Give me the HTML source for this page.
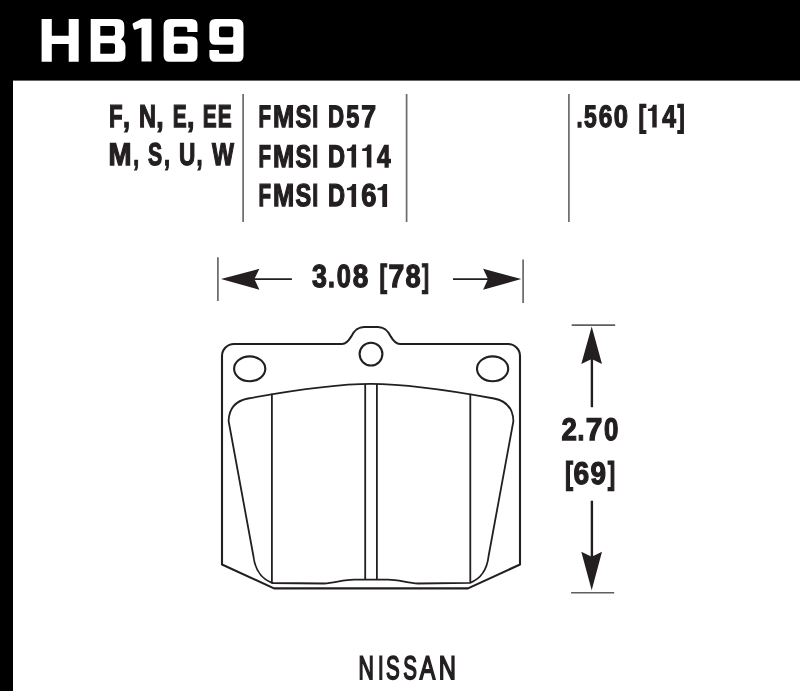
<!DOCTYPE html>
<html>
<head>
<meta charset="utf-8">
<style>
html,body{margin:0;padding:0;background:#fff;width:800px;height:691px;overflow:hidden;}
svg{position:absolute;left:0;top:0;display:block;}
text{font-family:"Liberation Sans",sans-serif;fill:#231f20;text-rendering:geometricPrecision;}
.b{font-weight:bold;}
</style>
</head>
<body>
<svg width="800" height="691" viewBox="0 0 800 691">
<rect x="0" y="0" width="800" height="691" fill="#fff"/>
<!-- header -->
<rect x="0" y="0" width="800" height="80.6" fill="#000"/>
<rect x="0" y="0" width="13" height="691" fill="#000"/>

<!-- HB169 title glyphs -->
<g fill="#fff" fill-rule="evenodd">
  <!-- H -->
  <path d="M41.6,18.9H51.8V35.8H68.7V18.9H78.7V61.8H68.7V44.1H51.8V61.8H41.6Z"/>
  <!-- B -->
  <path d="M90.7,18.9H117.3Q124.3,18.9 124.3,25.9V32.5Q124.3,37.2 120.8,39.2Q125.5,41.4 125.5,46.5V54.7Q125.5,61.7 118.5,61.7H90.7Z
           M100.3,26H113Q115,26 115,28V33.8Q115,35.8 113,35.8H100.3Z M100.3,43.3H113Q115,43.3 115,45.3V51.8Q115,53.8 113,53.8H100.3Z"/>
  <!-- 1 -->
  <path d="M142,18.8H150.5Q151.5,18.8 151.5,19.8V61.5H141.5V27.5L135.2,29.7Q134,30 133.7,28.8L132.6,24.8Q132.3,23.6 133.4,23.1Z"/>
  <!-- 6 -->
  <path d="M170.6,18.9H191.5Q197.5,18.9 197.5,24.9V32H187.3V28.3Q187.3,26.8 185.8,26.8H175.8Q173.8,26.8 173.8,28.8V36.6H191.5Q197.5,36.6 197.5,42.6V55.7Q197.5,61.7 191.5,61.7H169.6Q163.6,61.7 163.6,55.7V25.9Q163.6,18.9 170.6,18.9Z
           M175.8,43.8H185.7Q187.7,43.8 187.7,45.8V51.8Q187.7,53.8 185.7,53.8H175.8Q173.8,53.8 173.8,51.8V45.8Q173.8,43.8 175.8,43.8Z"/>
  <!-- 9 -->
  <path d="M215.4,18.9H236.5Q243.5,18.9 243.5,25.9V55.7Q243.5,61.7 237.5,61.7H215.4Q209.4,61.7 209.4,55.7V50.1H219V52.3Q219,53.8 220.5,53.8H231.3Q233.3,53.8 233.3,51.8V44.8H215.4Q209.4,44.8 209.4,38.8V24.9Q209.4,18.9 215.4,18.9Z
           M221,26.4H231.3Q233.3,26.4 233.3,28.4V35.3Q233.3,37.3 231.3,37.3H221Q219,37.3 219,35.3V28.4Q219,26.4 221,26.4Z"/>
</g>

<!-- dividers -->
<g stroke="#6b6b6b" stroke-width="1.7">
  <line x1="243.1" y1="94" x2="243.1" y2="222"/>
  <line x1="406.6" y1="94" x2="406.6" y2="222"/>
  <line x1="568.9" y1="94" x2="568.9" y2="222"/>
</g>

<!-- text block -->

<!-- horizontal dimension -->
<g stroke="#5f5f5f" stroke-width="1.6">
  <line x1="217.9" y1="257.3" x2="217.9" y2="301"/>
  <line x1="523.1" y1="259.4" x2="523.1" y2="303"/>
</g>
<g fill="#231f20">
  <path d="M221,279.1L259.4,268.8L254.4,279.1L259.4,289.8Z"/>
  <path d="M521.3,279.1L483.1,268.8L488,279.1L483.1,289.8Z"/>
</g>
<g stroke="#231f20" stroke-width="1.8">
  <line x1="254" y1="279.1" x2="291.9" y2="279.1"/>
  <line x1="453" y1="279.1" x2="488" y2="279.1"/>
</g>

<!-- vertical dimension -->
<g stroke="#5f5f5f" stroke-width="1.6">
  <line x1="571.7" y1="325.1" x2="615.2" y2="325.1"/>
  <line x1="571.1" y1="592.8" x2="614.2" y2="592.8"/>
</g>
<g fill="#231f20">
  <path d="M591.7,326.5L602,364.1L591.7,359L581.3,364.1Z"/>
  <path d="M591.7,590.3L602,551.8L591.7,556.8L581.3,551.8Z"/>
</g>
<g stroke="#231f20" stroke-width="2.4">
  <line x1="591.9" y1="359" x2="591.9" y2="407.2"/>
  <line x1="591.9" y1="500.7" x2="591.9" y2="557"/>
</g>

<!-- brake pad -->
<g fill="none" stroke="#231f20" stroke-linejoin="round">
  <path stroke-width="2.1" d="M222,356A12,12 0 0 1 234,344L342,344C346.5,344 349,340.5 351.2,336.6C353.5,332 356.5,327 364,327L378,327C385.5,327 388.5,332 390.8,336.6C393,340.5 395.5,344 400,344L508,344A12,12 0 0 1 520,356L520,564.5L468,588.4L274,588.4L222,564.5Z"/>
  <ellipse stroke-width="2.1" cx="249.7" cy="368.8" rx="15.6" ry="12.4"/>
  <ellipse stroke-width="2.1" cx="492.6" cy="368.8" rx="15.6" ry="12.4"/>
  <circle stroke-width="2.1" cx="371" cy="354.1" r="11.4"/>
  <path stroke-width="1.8" d="M271.9,582.8C262,579 255,570 253.4,556L228.6,421C229,409 235,401 248,398.5C300,389 340,383.9 371,383.9C402,383.9 442,389 494,398.5C507,401 513,409 513.4,421L488.6,556C487,570 480,579 470.1,582.8L418,583.5C407,582.5 397,579.6 388,579.6L354,579.6C345,579.6 335,582.5 324,583.5L271.9,583Z"/>
  <g stroke-width="1.8">
    <line x1="271.9" y1="393.8" x2="271.9" y2="583"/>
    <line x1="470.3" y1="393.8" x2="470.3" y2="583"/>
    <line x1="365.2" y1="383.9" x2="365.2" y2="579.6"/>
    <line x1="376.9" y1="383.9" x2="376.9" y2="579.6"/>
  </g>
</g>

<g opacity="0.999">
<text font-weight="bold" transform="translate(109.06,127.35) scale(0.7029,1)" font-size="31.69" stroke="#231f20" stroke-width="1.3" vector-effect="non-scaling-stroke">F</text>
<text font-weight="bold" transform="translate(123.04,127.35) scale(0.7941,1)" font-size="31.69" stroke="#231f20" stroke-width="1.3" vector-effect="non-scaling-stroke">,</text>
<text font-weight="bold" transform="translate(138.98,127.35) scale(0.7408,1)" font-size="31.69" stroke="#231f20" stroke-width="1.3" vector-effect="non-scaling-stroke">N</text>
<text font-weight="bold" transform="translate(156.15,127.35) scale(0.8382,1)" font-size="31.69" stroke="#231f20" stroke-width="1.3" vector-effect="non-scaling-stroke">,</text>
<text font-weight="bold" transform="translate(172.85,127.35) scale(0.6581,1)" font-size="31.69" stroke="#231f20" stroke-width="1.3" vector-effect="non-scaling-stroke">E</text>
<text font-weight="bold" transform="translate(187.05,127.35) scale(0.8382,1)" font-size="31.69" stroke="#231f20" stroke-width="1.3" vector-effect="non-scaling-stroke">,</text>
<text font-weight="bold" transform="translate(202.65,127.35) scale(0.6581,1)" font-size="31.69" stroke="#231f20" stroke-width="1.3" vector-effect="non-scaling-stroke">E</text>
<text font-weight="bold" transform="translate(217.85,127.35) scale(0.6581,1)" font-size="31.69" stroke="#231f20" stroke-width="1.3" vector-effect="non-scaling-stroke">E</text>
<text font-weight="bold" transform="translate(108.60,165.15) scale(0.8751,1)" font-size="31.54" stroke="#231f20" stroke-width="1.3" vector-effect="non-scaling-stroke">M</text>
<text font-weight="bold" transform="translate(133.13,165.15) scale(0.6648,1)" font-size="31.54" stroke="#231f20" stroke-width="1.3" vector-effect="non-scaling-stroke">,</text>
<text font-weight="bold" transform="translate(147.94,165.15) scale(0.6721,1)" font-size="31.54" stroke="#231f20" stroke-width="1.3" vector-effect="non-scaling-stroke">S</text>
<text font-weight="bold" transform="translate(164.08,165.15) scale(0.6870,1)" font-size="31.54" stroke="#231f20" stroke-width="1.3" vector-effect="non-scaling-stroke">,</text>
<text font-weight="bold" transform="translate(179.09,165.15) scale(0.7174,1)" font-size="31.54" stroke="#231f20" stroke-width="1.3" vector-effect="non-scaling-stroke">U</text>
<text font-weight="bold" transform="translate(196.48,165.15) scale(0.6870,1)" font-size="31.54" stroke="#231f20" stroke-width="1.3" vector-effect="non-scaling-stroke">,</text>
<text font-weight="bold" transform="translate(211.93,165.15) scale(0.7372,1)" font-size="31.54" stroke="#231f20" stroke-width="1.3" vector-effect="non-scaling-stroke">W</text>
<text font-weight="bold" transform="translate(258.38,126.95) scale(0.6590,1)" font-size="31.11" stroke="#231f20" stroke-width="1.3" vector-effect="non-scaling-stroke">F</text>
<text font-weight="bold" transform="translate(273.05,126.95) scale(0.8184,1)" font-size="31.11" stroke="#231f20" stroke-width="1.3" vector-effect="non-scaling-stroke">M</text>
<text font-weight="bold" transform="translate(295.57,126.95) scale(0.7566,1)" font-size="31.11" stroke="#231f20" stroke-width="1.3" vector-effect="non-scaling-stroke">S</text>
<text font-weight="bold" transform="translate(312.31,126.95) scale(0.6919,1)" font-size="31.11" stroke="#231f20" stroke-width="1.3" vector-effect="non-scaling-stroke">I</text>
<text font-weight="bold" transform="translate(327.96,126.95) scale(0.7182,1)" font-size="31.11" stroke="#231f20" stroke-width="1.3" vector-effect="non-scaling-stroke">D</text>
<text font-weight="bold" transform="translate(346.23,126.95) scale(0.7560,1)" font-size="31.11" stroke="#231f20" stroke-width="1.3" vector-effect="non-scaling-stroke">5</text>
<text font-weight="bold" transform="translate(361.21,126.95) scale(0.8564,1)" font-size="31.11" stroke="#231f20" stroke-width="1.3" vector-effect="non-scaling-stroke">7</text>
<text font-weight="bold" transform="translate(258.38,166.75) scale(0.6560,1)" font-size="31.25" stroke="#231f20" stroke-width="1.3" vector-effect="non-scaling-stroke">F</text>
<text font-weight="bold" transform="translate(273.05,166.75) scale(0.8146,1)" font-size="31.25" stroke="#231f20" stroke-width="1.3" vector-effect="non-scaling-stroke">M</text>
<text font-weight="bold" transform="translate(295.57,166.75) scale(0.7531,1)" font-size="31.25" stroke="#231f20" stroke-width="1.3" vector-effect="non-scaling-stroke">S</text>
<text font-weight="bold" transform="translate(312.31,166.75) scale(0.6887,1)" font-size="31.25" stroke="#231f20" stroke-width="1.3" vector-effect="non-scaling-stroke">I</text>
<text font-weight="bold" transform="translate(327.97,166.75) scale(0.7566,1)" font-size="31.25" stroke="#231f20" stroke-width="1.3" vector-effect="non-scaling-stroke">D</text>
<path fill="#231f20" d="M346.90,148.50L349.50,148.20Q352.10,146.80 352.50,144.60L356.10,144.60L356.10,167.40L351.50,167.40L351.50,150.90L346.90,150.90Z"/>
<path fill="#231f20" d="M362.20,148.50L364.80,148.20Q367.40,146.80 367.80,144.60L371.40,144.60L371.40,167.40L366.80,167.40L366.80,150.90L362.20,150.90Z"/>
<text font-weight="bold" transform="translate(376.88,166.75) scale(0.7826,1)" font-size="31.25" stroke="#231f20" stroke-width="1.3" vector-effect="non-scaling-stroke">4</text>
<text font-weight="bold" transform="translate(258.38,206.45) scale(0.6470,1)" font-size="31.69" stroke="#231f20" stroke-width="1.3" vector-effect="non-scaling-stroke">F</text>
<text font-weight="bold" transform="translate(273.05,206.45) scale(0.8034,1)" font-size="31.69" stroke="#231f20" stroke-width="1.3" vector-effect="non-scaling-stroke">M</text>
<text font-weight="bold" transform="translate(295.57,206.45) scale(0.7427,1)" font-size="31.69" stroke="#231f20" stroke-width="1.3" vector-effect="non-scaling-stroke">S</text>
<text font-weight="bold" transform="translate(312.31,206.45) scale(0.6792,1)" font-size="31.69" stroke="#231f20" stroke-width="1.3" vector-effect="non-scaling-stroke">I</text>
<text font-weight="bold" transform="translate(327.97,206.45) scale(0.7462,1)" font-size="31.69" stroke="#231f20" stroke-width="1.3" vector-effect="non-scaling-stroke">D</text>
<path fill="#231f20" d="M346.90,187.90L349.50,187.60Q352.10,186.20 352.50,184.00L356.10,184.00L356.10,207.10L351.50,207.10L351.50,190.30L346.90,190.30Z"/>
<text font-weight="bold" transform="translate(361.35,206.45) scale(0.8618,1)" font-size="31.69" stroke="#231f20" stroke-width="1.3" vector-effect="non-scaling-stroke">6</text>
<path fill="#231f20" d="M377.50,187.90L380.10,187.60Q383.10,186.20 383.50,184.00L387.10,184.00L387.10,207.10L382.30,207.10L382.30,190.30L377.50,190.30Z"/>
<text font-weight="bold" transform="translate(576.56,126.85) scale(0.7063,1)" font-size="31.11" stroke="#231f20" stroke-width="1.3" vector-effect="non-scaling-stroke">.</text>
<text font-weight="bold" transform="translate(583.95,126.85) scale(0.7366,1)" font-size="31.11" stroke="#231f20" stroke-width="1.3" vector-effect="non-scaling-stroke">5</text>
<text font-weight="bold" transform="translate(598.66,126.85) scale(0.7848,1)" font-size="31.11" stroke="#231f20" stroke-width="1.3" vector-effect="non-scaling-stroke">6</text>
<text font-weight="bold" transform="translate(613.84,126.85) scale(0.8247,1)" font-size="31.11" stroke="#231f20" stroke-width="1.3" vector-effect="non-scaling-stroke">0</text>
<text font-weight="bold" transform="translate(638.56,126.85) scale(0.7410,1)" font-size="31.11" stroke="#231f20" stroke-width="1.3" vector-effect="non-scaling-stroke">[</text>
<path fill="#231f20" d="M647.90,108.70L650.50,108.40Q652.70,107.00 653.10,104.80L656.70,104.80L656.70,127.50L652.30,127.50L652.30,111.10L647.90,111.10Z"/>
<text font-weight="bold" transform="translate(662.18,126.85) scale(0.7923,1)" font-size="31.11" stroke="#231f20" stroke-width="1.3" vector-effect="non-scaling-stroke">4</text>
<text font-weight="bold" transform="translate(677.59,126.85) scale(0.6924,1)" font-size="31.11" stroke="#231f20" stroke-width="1.3" vector-effect="non-scaling-stroke">]</text>
<text font-weight="bold" transform="translate(311.94,286.55) scale(0.8367,1)" font-size="31.98" stroke="#231f20" stroke-width="1.3" vector-effect="non-scaling-stroke">3</text>
<text font-weight="bold" transform="translate(327.97,286.55) scale(0.7756,1)" font-size="31.98" stroke="#231f20" stroke-width="1.3" vector-effect="non-scaling-stroke">.</text>
<text font-weight="bold" transform="translate(336.74,286.55) scale(0.7956,1)" font-size="31.98" stroke="#231f20" stroke-width="1.3" vector-effect="non-scaling-stroke">0</text>
<text font-weight="bold" transform="translate(352.66,286.55) scale(0.8742,1)" font-size="31.98" stroke="#231f20" stroke-width="1.3" vector-effect="non-scaling-stroke">8</text>
<text font-weight="bold" transform="translate(379.58,286.55) scale(0.7090,1)" font-size="31.98" stroke="#231f20" stroke-width="1.3" vector-effect="non-scaling-stroke">[</text>
<text font-weight="bold" transform="translate(388.53,286.55) scale(0.8864,1)" font-size="31.98" stroke="#231f20" stroke-width="1.3" vector-effect="non-scaling-stroke">7</text>
<text font-weight="bold" transform="translate(405.49,286.55) scale(0.8489,1)" font-size="31.98" stroke="#231f20" stroke-width="1.3" vector-effect="non-scaling-stroke">8</text>
<text font-weight="bold" transform="translate(421.99,286.55) scale(0.6617,1)" font-size="31.98" stroke="#231f20" stroke-width="1.3" vector-effect="non-scaling-stroke">]</text>
<text font-weight="bold" transform="translate(561.49,440.35) scale(0.8799,1)" font-size="31.40" stroke="#231f20" stroke-width="1.3" vector-effect="non-scaling-stroke">2</text>
<text font-weight="bold" transform="translate(577.57,440.35) scale(0.7900,1)" font-size="31.40" stroke="#231f20" stroke-width="1.3" vector-effect="non-scaling-stroke">.</text>
<text font-weight="bold" transform="translate(585.87,440.35) scale(0.9503,1)" font-size="31.40" stroke="#231f20" stroke-width="1.3" vector-effect="non-scaling-stroke">7</text>
<text font-weight="bold" transform="translate(604.03,440.35) scale(0.8238,1)" font-size="31.40" stroke="#231f20" stroke-width="1.3" vector-effect="non-scaling-stroke">0</text>
<text font-weight="bold" transform="translate(564.99,484.25) scale(0.7703,1)" font-size="31.40" stroke="#231f20" stroke-width="1.3" vector-effect="non-scaling-stroke">[</text>
<text font-weight="bold" transform="translate(573.42,484.25) scale(0.8961,1)" font-size="31.40" stroke="#231f20" stroke-width="1.3" vector-effect="non-scaling-stroke">6</text>
<text font-weight="bold" transform="translate(590.58,484.25) scale(0.8877,1)" font-size="31.40" stroke="#231f20" stroke-width="1.3" vector-effect="non-scaling-stroke">9</text>
<text font-weight="bold" transform="translate(607.68,484.25) scale(0.7101,1)" font-size="31.40" stroke="#231f20" stroke-width="1.3" vector-effect="non-scaling-stroke">]</text>
<text transform="translate(358.45,678.60) scale(0.6485,1)" font-size="32.85" stroke="#231f20" stroke-width="1.8" vector-effect="non-scaling-stroke">N</text>
<text transform="translate(378.12,678.60) scale(0.6202,1)" font-size="32.85" stroke="#231f20" stroke-width="1.8" vector-effect="non-scaling-stroke">I</text>
<text transform="translate(385.97,678.60) scale(0.6240,1)" font-size="32.85" stroke="#231f20" stroke-width="1.8" vector-effect="non-scaling-stroke">S</text>
<text transform="translate(403.17,678.60) scale(0.6240,1)" font-size="32.85" stroke="#231f20" stroke-width="1.8" vector-effect="non-scaling-stroke">S</text>
<text transform="translate(419.85,678.60) scale(0.7070,1)" font-size="32.85" stroke="#231f20" stroke-width="1.8" vector-effect="non-scaling-stroke">A</text>
<text transform="translate(438.75,678.60) scale(0.7248,1)" font-size="32.85" stroke="#231f20" stroke-width="1.8" vector-effect="non-scaling-stroke">N</text>
</g>
</svg>
</body>
</html>
